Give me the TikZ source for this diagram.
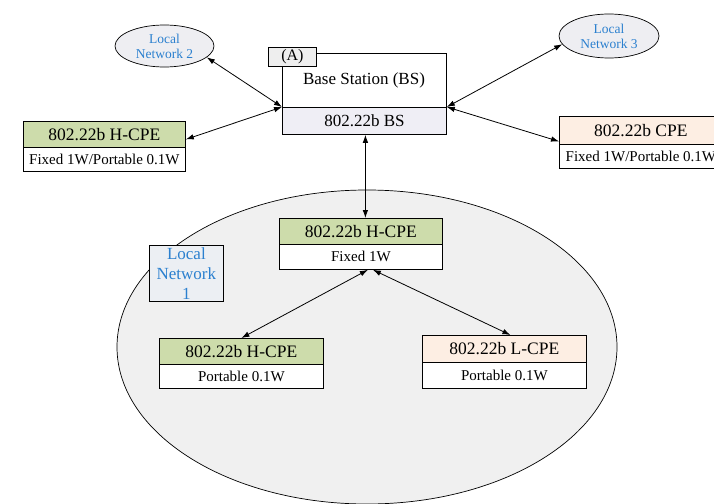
\documentclass[tikz,border=0pt]{standalone}
\usepackage{fontspec}
\setmainfont{Liberation Serif}
\usetikzlibrary{arrows.meta,shapes.geometric}
\definecolor{hgreen}{HTML}{CDDCAB}
\definecolor{peach}{HTML}{FDEEE3}
\definecolor{bslow}{HTML}{EFEEF5}
\definecolor{tabgray}{HTML}{EEEEEE}
\definecolor{netgray}{HTML}{F0F0F0}
\definecolor{ln1fill}{HTML}{ECEFF3}
\definecolor{lnfill}{HTML}{EEEEF2}
\definecolor{lnblue}{HTML}{2B80CF}
\tikzset{
  box/.style={draw=black, line width=0.8pt, rectangle, inner sep=0pt, anchor=north west, minimum width=#1},
  hdr/.style={box=#1, minimum height=26pt, font=\fontsize{17.5}{19}\selectfont},
  dtl/.style={box=#1, minimum height=24pt, fill=white, font=\fontsize{15}{17}\selectfont},
  lnet/.style={draw=black, line width=0.7pt, ellipse, fill=lnfill, text=lnblue, align=center, inner sep=0pt, font=\fontsize{13.5}{15}\selectfont},
  arr/.style={line width=0.8pt, {Latex[length=8pt,width=5.5pt]}-{Latex[length=8pt,width=5.5pt]}}
}
\begin{document}
\begin{tikzpicture}[x=1pt,y=-1pt]
\useasboundingbox (0,0) rectangle (714,503);
\clip (0,0) rectangle (714,503);
% big local network 1 ellipse
\node[draw=black, line width=0.7pt, ellipse, fill=netgray, minimum width=500pt, minimum height=314pt, inner sep=0pt] (net1) at (367,347) {};
\node[draw=black, line width=0.8pt, fill=ln1fill, minimum width=74pt, minimum height=56pt, anchor=north west, inner sep=0pt, text=lnblue, align=center, font=\fontsize{17}{20}\selectfont] (ln1) at (149,245) {Local\\Network\\1};
% base station
\node[box=164pt, minimum height=54pt, fill=white] (bst) at (282,53) {};
\node[anchor=center, font=\fontsize{17}{19}\selectfont] (bstxt) at (364,80) {Base Station (BS)};
\node[box=164pt, minimum height=27pt, fill=bslow, font=\fontsize{17}{19}\selectfont] (bsb) at (282,107) {802.22b BS};
\node[box=48pt, minimum height=19pt, fill=tabgray, font=\fontsize{16}{18}\selectfont] (tab) at (268,47) {(A)};
% local networks 2 and 3
\node[lnet, minimum width=99pt, minimum height=42pt] (ln2) at (164.5,46) {Local\\Network 2};
\node[lnet, minimum width=100pt, minimum height=44pt] (ln3) at (609,36) {Local\\Network 3};
% left H-CPE
\node[hdr=162pt, fill=hgreen] (lhh) at (23,121) {802.22b H-CPE};
\node[dtl=162pt] (lhd) at (23,147) {Fixed 1W/Portable 0.1W};
% right CPE
\node[hdr=163pt, fill=peach, minimum height=28pt] (rch) at (559,116) {802.22b CPE};
\node[dtl=163pt] (rcd) at (559,144) {Fixed 1W/Portable 0.1W};
% top H-CPE
\node[hdr=163pt, fill=hgreen] (th) at (279,218) {802.22b H-CPE};
\node[dtl=163pt, minimum height=25pt] (td) at (279,244) {Fixed 1W};
% bottom left H-CPE
\node[hdr=164pt, fill=hgreen] (bh) at (159,338) {802.22b H-CPE};
\node[dtl=164pt] (bd) at (159,364) {Portable 0.1W};
% L-CPE
\node[hdr=164pt, fill=peach, minimum height=27pt] (lh) at (422,335) {802.22b L-CPE};
\node[dtl=164pt, minimum height=26pt] (ld) at (422,362) {Portable 0.1W};
% connectors
\draw[arr] (ln2.-15) -- (bsb.north west);
\draw[arr] ([yshift=-5pt]lhh.east) -- (bsb.north west);
\draw[arr] (ln3.190) -- (bsb.north east);
\draw[arr] ([yshift=-11pt]rch.west) -- (bsb.north east);
\draw[arr] ([xshift=1pt]bsb.south) -- ([xshift=1pt]bsb.south |- th.north);
\draw[arr] ([xshift=7pt]td.south) -- (bh.north);
\draw[arr] ([xshift=12pt]td.south) -- ([xshift=6pt]lh.north);
\end{tikzpicture}
\end{document}
